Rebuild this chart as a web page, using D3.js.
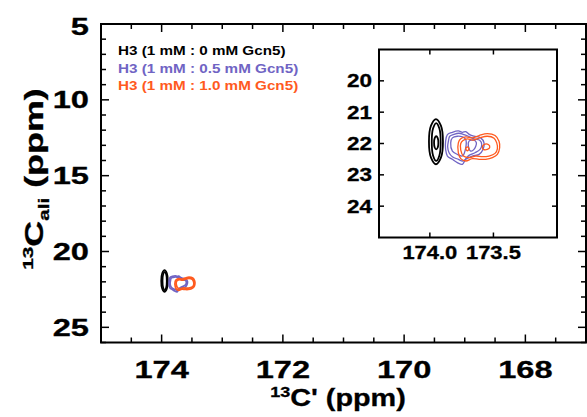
<!DOCTYPE html>
<html><head><meta charset="utf-8">
<script src="https://cdn.jsdelivr.net/npm/d3@7"></script>
<style>body{margin:0;background:#fff}svg{display:block}text{font-family:"Liberation Sans",Arial,sans-serif;font-weight:bold}</style>
</head><body>
<svg id="c" width="587" height="417"></svg>
<script>
// ---------------- data (ppm) ----------------
const xMainDomain = [175, 167];
const yMainDomain = [5, 26];
const xInsetDomain = [174.4, 173.0];
const yInsetDomain = [19, 25];
const xMainTickLabels = [174, 172, 170, 168];
const yMainTickLabels = [5, 10, 15, 20, 25];
const xInsetTickLabels = [174.0, 173.5];
const yInsetTickLabels = [20, 21, 22, 23, 24];
const seriesNames = ["H3 (1 mM : 0 mM Gcn5)", "H3 (1 mM : 0.5 mM Gcn5)", "H3 (1 mM : 1.0 mM Gcn5)"];
const seriesColors = ["#000000", "#7064c4", "#ff5a1e"];

// contour traces [13C' ppm, 13C_ali ppm]
const contours0 = [
  [[173.952,21.221],[173.913,21.432],[173.897,21.942],[173.913,22.452],[173.952,22.663],[173.991,22.452],[174.007,21.942],[173.991,21.432]],
  [[173.950,21.347],[173.925,21.524],[173.915,21.952],[173.925,22.380],[173.950,22.557],[173.975,22.380],[173.985,21.952],[173.975,21.524]],
  [[173.950,21.769],[173.938,21.830],[173.933,21.979],[173.938,22.128],[173.950,22.189],[173.962,22.128],[173.967,21.979],[173.962,21.830]]
];
const contours05 = [
  [[173.876,21.926],[173.862,21.715],[173.823,21.642],[173.776,21.600],[173.744,21.642],[173.718,21.621],[173.687,21.715],[173.653,21.768],[173.600,21.821],[173.574,21.979],[173.582,22.189],[173.613,22.347],[173.666,22.400],[173.718,22.505],[173.744,22.663],[173.784,22.610],[173.823,22.505],[173.862,22.400],[173.876,22.189]],
  [[173.854,21.926],[173.844,21.768],[173.810,21.705],[173.771,21.673],[173.739,21.705],[173.697,21.768],[173.653,21.852],[173.608,21.894],[173.592,22.031],[173.605,22.189],[173.645,22.294],[173.692,22.379],[173.739,22.558],[173.776,22.505],[173.823,22.421],[173.849,22.294],[173.860,22.105]],
  [[173.836,21.979],[173.823,21.821],[173.784,21.768],[173.744,21.789],[173.718,21.873],[173.718,22.137],[173.744,22.400],[173.784,22.347],[173.823,22.242]],
  [[173.692,21.926],[173.653,21.894],[173.634,21.979],[173.653,22.189],[173.679,22.242],[173.697,22.084]]
];
const contours10 = [
  [[173.776,21.979],[173.757,21.852],[173.718,21.789],[173.666,21.821],[173.613,21.747],[173.548,21.684],[173.487,21.747],[173.456,21.926],[173.451,22.137],[173.469,22.347],[173.508,22.452],[173.561,22.505],[173.613,22.505],[173.666,22.484],[173.718,22.558],[173.757,22.484],[173.776,22.294]],
  [[173.757,22.000],[173.739,21.905],[173.705,21.852],[173.660,21.894],[173.608,21.821],[173.548,21.768],[173.495,21.831],[173.474,21.979],[173.469,22.168],[173.487,22.315],[173.535,22.400],[173.587,22.421],[173.639,22.400],[173.692,22.452],[173.736,22.400],[173.757,22.210]],
  [[173.705,22.105],[173.692,22.168],[173.705,22.231],[173.718,22.168]],
  [[173.587,22.137],[173.574,22.031],[173.540,22.031],[173.529,22.126],[173.548,22.189],[173.579,22.189]]
];
const seriesContours = [contours0, contours05, contours10];

// ---------------- drawing ----------------
const svg = d3.select("#c");
const SX = 1.36;

const x = d3.scaleLinear().domain(xMainDomain).range([101, 586]);
const y = d3.scaleLinear().domain(yMainDomain).range([24, 342.5]);
const xi = d3.scaleLinear().domain(xInsetDomain).range([379, 557]);
const yi = d3.scaleLinear().domain(yInsetDomain).range([49.5, 237.5]);

function label(g, str, tx, ty, size, anchor, sx, rot) {
  return g.append("text")
    .attr("transform", `translate(${tx},${ty})` + (rot ? ` rotate(${rot})` : "") + ` scale(${sx},1)`)
    .attr("text-anchor", anchor).attr("font-size", size).text(str);
}

function ticks(g, scale, vals, orient, len, pos) {
  vals.forEach(v => {
    const p = scale(v);
    if (orient === "bottom") g.append("line").attr("x1", p).attr("x2", p).attr("y1", pos).attr("y2", pos - len);
    if (orient === "top") g.append("line").attr("x1", p).attr("x2", p).attr("y1", pos).attr("y2", pos + len);
    if (orient === "left") g.append("line").attr("y1", p).attr("y2", p).attr("x1", pos).attr("x2", pos + len);
    if (orient === "right") g.append("line").attr("y1", p).attr("y2", p).attr("x1", pos).attr("x2", pos - len);
  });
}

// main axes
const gm = svg.append("g").attr("stroke", "#000").attr("stroke-width", 1.5);
const xMinor = d3.range(xMainDomain[1], xMainDomain[0] + 0.001, 0.5).filter(v => !xMainTickLabels.includes(v));
const yMinor = d3.range(yMainDomain[0], yMainDomain[1] + 0.001, 1).filter(v => !yMainTickLabels.includes(v));
ticks(gm, x, xMinor, "bottom", 5, y.range()[1]);
ticks(gm, x, xMainTickLabels, "bottom", 8, y.range()[1]);
ticks(gm, x, xMinor, "top", 5, y.range()[0]);
ticks(gm, x, xMainTickLabels, "top", 8, y.range()[0]);
ticks(gm, y, yMinor, "left", 5, x.range()[0]);
ticks(gm, y, yMainTickLabels, "left", 8, x.range()[0]);
ticks(gm, y, yMinor, "right", 5, x.range()[1]);
ticks(gm, y, yMainTickLabels, "right", 8, x.range()[1]);
svg.append("rect").attr("x", x.range()[0]).attr("y", y.range()[0])
  .attr("width", x.range()[1] - x.range()[0]).attr("height", y.range()[1] - y.range()[0])
  .attr("fill", "none").attr("stroke", "#000").attr("stroke-width", 2);

const gl = svg.append("g").attr("fill", "#000").attr("stroke", "#000").attr("stroke-width", 0.3);
xMainTickLabels.forEach(v => label(gl, d3.format("d")(v), x(v), 378, 24, "middle", SX));
yMainTickLabels.forEach(v => label(gl, d3.format("d")(v), 89, y(v) + (v === 5 ? 11 : 8.5), 24, "end", SX));

// axis titles
const xt = gl.append("text").attr("transform", `translate(338,406) scale(1.2,1)`).attr("text-anchor", "middle").attr("font-size", 24);
xt.append("tspan").attr("font-size", 15).attr("dy", -9).text("13");
xt.append("tspan").attr("dy", 9).text("C' (ppm)");
const yt = gl.append("text").attr("transform", `translate(43,179) rotate(-90) scale(1.38,1)`).attr("text-anchor", "middle").attr("font-size", 26);
yt.append("tspan").attr("font-size", 15).attr("dy", -10).text("13");
yt.append("tspan").attr("dy", 10).text("C");
yt.append("tspan").attr("font-size", 15).attr("dy", 6).text("ali");
yt.append("tspan").attr("dy", -6).text(" (ppm)");

// legend
seriesNames.forEach((n, i) => label(svg, n, 118, 55 + i * 17.5, 12, "start", 1.27).attr("fill", seriesColors[i]));

// contour line generators
const lineMain = d3.line().x(d => x(d[0])).y(d => y(d[1])).curve(d3.curveCatmullRomClosed.alpha(0.5));
const lineIn = d3.line().x(d => xi(d[0])).y(d => yi(d[1])).curve(d3.curveCatmullRomClosed.alpha(0.5));

const gcm = svg.append("g");
seriesContours.forEach((cs, i) => {
  cs.slice(0, 2).forEach(c => gcm.append("path").attr("d", lineMain(c)).attr("fill", "none")
    .attr("stroke", seriesColors[i]).attr("stroke-width", 1.7));
});

// inset
svg.append("rect").attr("x", xi.range()[0]).attr("y", yi.range()[0])
  .attr("width", xi.range()[1] - xi.range()[0]).attr("height", yi.range()[1] - yi.range()[0])
  .attr("fill", "#fff");
const gi = svg.append("g").attr("stroke", "#000").attr("stroke-width", 1.5);
ticks(gi, xi, xInsetTickLabels, "bottom", 5, yi.range()[1]);
ticks(gi, xi, xInsetTickLabels, "top", 5, yi.range()[0]);
ticks(gi, yi, yInsetTickLabels, "left", 5, xi.range()[0]);
ticks(gi, yi, yInsetTickLabels, "right", 5, xi.range()[1]);
svg.append("rect").attr("x", xi.range()[0]).attr("y", yi.range()[0])
  .attr("width", xi.range()[1] - xi.range()[0]).attr("height", yi.range()[1] - yi.range()[0])
  .attr("fill", "none").attr("stroke", "#000").attr("stroke-width", 2);
xInsetTickLabels.forEach(v => label(gl, d3.format(".1f")(v), xi(v), 259, 18, "middle", 1.22));
yInsetTickLabels.forEach(v => label(gl, d3.format("d")(v), 372, yi(v) + 6.5, 18, "end", 1.25));

const gci = svg.append("g");
seriesContours.forEach((cs, i) => {
  cs.forEach(c => gci.append("path").attr("d", lineIn(c)).attr("fill", "none")
    .attr("stroke", seriesColors[i]).attr("stroke-width", i === 0 ? 1.8 : 1.3));
});
</script>
</body></html>
